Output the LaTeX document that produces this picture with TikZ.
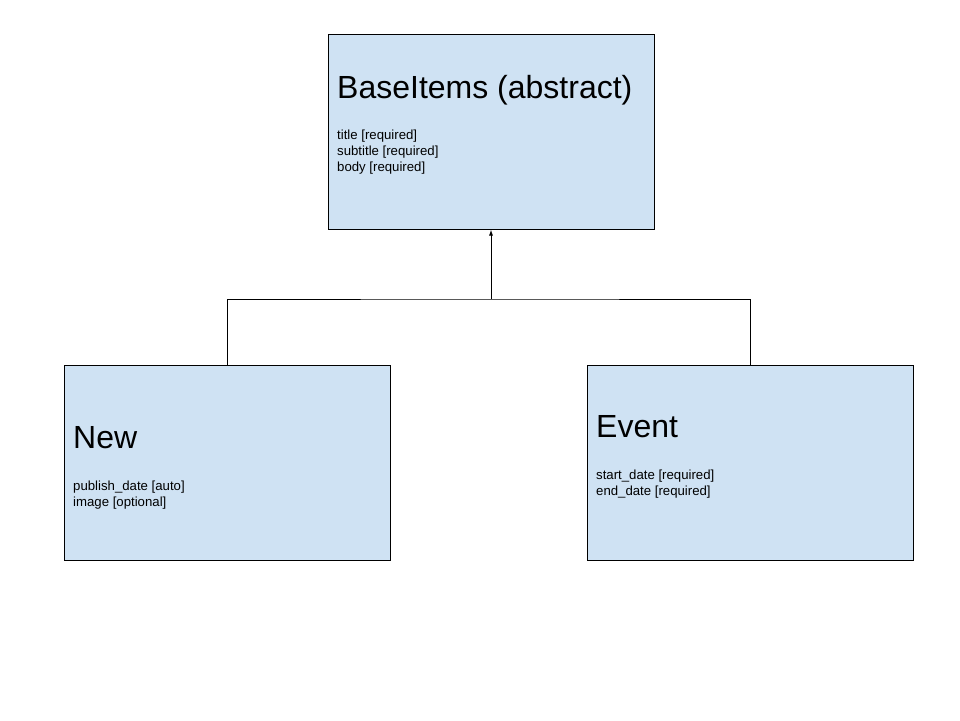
\documentclass[tikz,border=0pt]{standalone}
\usepackage{fontspec}
\setmainfont{Liberation Sans}
\usepackage{xcolor}
\usetikzlibrary{arrows.meta}

\definecolor{boxblue}{HTML}{CFE2F3}
\tikzset{
  classbox/.style={draw=black, line width=1pt, fill=boxblue, minimum width=326pt, minimum height=195pt, inner sep=0pt},
  classname/.style={anchor=base west, inner sep=0pt, font=\fontsize{32}{38}\selectfont},
  attrs/.style={anchor=north west, inner sep=0pt, align=left, font=\fontsize{13.2}{16}\selectfont}
}

\begin{document}
\begin{tikzpicture}[x=1pt, y=-1pt]
\useasboundingbox (0,0) rectangle (960,720);

% Base class
\node[classbox] (base) at (491,131.5) {};
\node[classname] (basename) at (337,98) {BaseItems (abstract)};
\node[attrs] (baseattrs) at (337,130) {title [required]\\subtitle [required]\\body [required]};

% Subclass: New
\node[classbox] (new) at (227,462.5) {};
\node[classname] (newname) at (73,448) {New};
\node[attrs] (newattrs) at (73,481) {publish\_date [auto]\\image [optional]};

% Subclass: Event
\node[classbox] (event) at (750,462.5) {};
\node[classname] (eventname) at (596,437) {Event};
\node[attrs] (eventattrs) at (596,470) {start\_date [required]\\end\_date [required]};

% Inheritance
\coordinate (bar) at (491,299);
\draw[line width=1pt] (new.north) |- (bar) -| (event.north);
\draw[line width=1pt, -{Latex[length=6pt,width=4pt]}] (bar) -- (base.south);
\end{tikzpicture}
\end{document}
